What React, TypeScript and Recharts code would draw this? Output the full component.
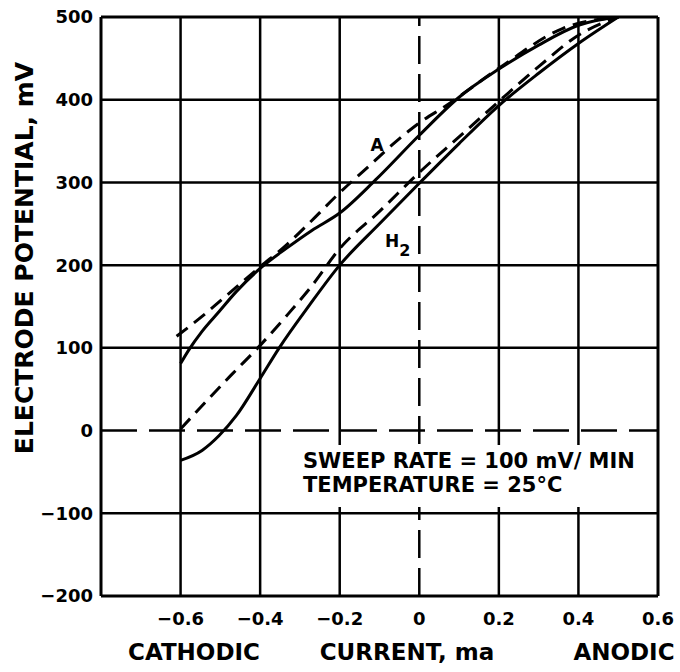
import { LineChart, Line, XAxis, YAxis, ReferenceLine } from "recharts";

// current (ma) / potential (mV)
const solidUpperCurrent = [-0.6, -0.58, -0.546, -0.503, -0.46, -0.4, -0.335, -0.27, -0.2, -0.11, 0, 0.1, 0.2, 0.3, 0.4, 0.5];
const solidUpperPotential = [81, 97, 120, 144, 168, 196, 220, 242, 263, 303, 357, 403, 437, 466, 490, 500];

const dashedUpperCurrent = [-0.61, -0.546, -0.473, -0.4, -0.335, -0.27, -0.21, -0.126, -0.045, 0, 0.068, 0.2, 0.36, 0.5];
const dashedUpperPotential = [114, 138, 168, 198, 224, 254, 283, 320, 355, 372, 393, 438, 486, 500];

const solidLowerCurrent = [-0.6, -0.546, -0.503, -0.46, -0.4, -0.352, -0.277, -0.2, -0.1, 0, 0.1, 0.2, 0.3, 0.4, 0.5];
const solidLowerPotential = [-36, -24, -6, 18, 63, 100, 151, 200, 250, 299, 347, 393, 432, 468, 500];

const dashedLowerCurrent = [-0.6, -0.546, -0.473, -0.4, -0.335, -0.27, -0.2, -0.1, 0, 0.1, 0.2, 0.3, 0.4, 0.5];
const dashedLowerPotential = [2, 30, 67, 103, 138, 175, 220, 265, 312, 355, 398, 440, 478, 500];

const xTicks = [-0.6, -0.4, -0.2, 0, 0.2, 0.4, 0.6];
const yTicks = [-200, -100, 0, 100, 200, 300, 400, 500];
const xGrid = [-0.6, -0.4, -0.2, 0.2, 0.4];
const yGrid = [-100, 100, 200, 300, 400];

const zip = (xs: number[], ys: number[]) => xs.map((x, i) => ({ x, y: ys[i] }));

const solidUpper = zip(solidUpperCurrent, solidUpperPotential);
const dashedUpper = zip(dashedUpperCurrent, dashedUpperPotential);
const solidLower = zip(solidLowerCurrent, solidLowerPotential);
const dashedLower = zip(dashedLowerCurrent, dashedLowerPotential);

const FONT = "'DejaVu Sans', sans-serif";
const tickStyle = { fill: "#000", fontSize: 18, fontWeight: 700, fontFamily: FONT };

const fmtX = (v: number) => (v === 0 ? "0" : v.toFixed(1).replace("-", "\u2212"));
const fmtY = (v: number) => String(v).replace("-", "\u2212");

function Txt({ x, y, size, rotate, children }: { x: number; y: number; size: number; rotate?: number; children: any }) {
  return (
    <div
      style={{
        position: "absolute",
        left: x,
        top: y,
        transform: `translate(-50%, -50%)${rotate ? ` rotate(${rotate}deg)` : ""}`,
        fontSize: size,
        lineHeight: 1,
        whiteSpace: "nowrap",
      }}
    >
      {children}
    </div>
  );
}

export default function App() {
  const curve = { type: "monotone" as const, dataKey: "y", stroke: "#000", strokeWidth: 3, dot: false, isAnimationActive: false };
  return (
    <div
      style={{
        position: "absolute",
        left: 0,
        top: 0,
        width: 680,
        height: 672,
        background: "#fff",
        fontFamily: FONT,
        fontWeight: 700,
        color: "#000",
      }}
    >
      <LineChart width={680} height={672} margin={{ top: 17, right: 22, bottom: 46, left: 0 }}>
        <XAxis
          type="number"
          dataKey="x"
          domain={[-0.8, 0.6]}
          ticks={xTicks}
          interval={0}
          tickFormatter={fmtX}
          axisLine={false}
          tickLine={false}
          tickMargin={10}
          height={30}
          tick={tickStyle}
          allowDataOverflow
        />
        <YAxis
          type="number"
          domain={[-200, 500]}
          ticks={yTicks}
          interval={0}
          tickFormatter={fmtY}
          axisLine={false}
          tickLine={false}
          width={101}
          tick={tickStyle}
          allowDataOverflow
        />
        {xGrid.map((v) => (
          <ReferenceLine key={"gx" + v} x={v} stroke="#000" strokeWidth={2.5} />
        ))}
        {yGrid.map((v) => (
          <ReferenceLine key={"gy" + v} y={v} stroke="#000" strokeWidth={2.5} />
        ))}
        <ReferenceLine x={0} stroke="#000" strokeWidth={2.5} strokeDasharray="28 10" />
        <ReferenceLine y={0} stroke="#000" strokeWidth={2.5} strokeDasharray="36 12" />
        <ReferenceLine x={-0.8} stroke="#000" strokeWidth={3} />
        <ReferenceLine x={0.6} stroke="#000" strokeWidth={3} />
        <ReferenceLine y={-200} stroke="#000" strokeWidth={3} />
        <ReferenceLine y={500} stroke="#000" strokeWidth={3} />

        <Line data={solidUpper} {...curve} />
        <Line data={solidLower} {...curve} />
        <Line data={dashedUpper} {...curve} strokeDasharray="14 8" />
        <Line data={dashedLower} {...curve} strokeDasharray="14 8" />
      </LineChart>

      <Txt x={24} y={258} size={25} rotate={-90}>
        ELECTRODE POTENTIAL, mV
      </Txt>
      <Txt x={194} y={652} size={23}>CATHODIC</Txt>
      <Txt x={407} y={652} size={23}>CURRENT, ma</Txt>
      <Txt x={624} y={652} size={23}>ANODIC</Txt>

      <Txt x={377} y={145} size={17}>A</Txt>
      <div style={{ position: "absolute", left: 385, top: 233, fontSize: 17, lineHeight: 1 }}>
        H<span style={{ fontSize: 16, position: "relative", top: 9 }}>2</span>
      </div>

      <div
        style={{
          position: "absolute",
          left: 300,
          top: 445,
          width: 345,
          height: 62,
          background: "#fff",
        }}
      >
        <div style={{ position: "absolute", left: 3, top: 6, fontSize: 21, lineHeight: 1, whiteSpace: "nowrap" }}>
          SWEEP RATE = 100 mV/ MIN
        </div>
        <div style={{ position: "absolute", left: 3, top: 30, fontSize: 21, lineHeight: 1, whiteSpace: "nowrap" }}>
          TEMPERATURE = 25°C
        </div>
      </div>
    </div>
  );
}
